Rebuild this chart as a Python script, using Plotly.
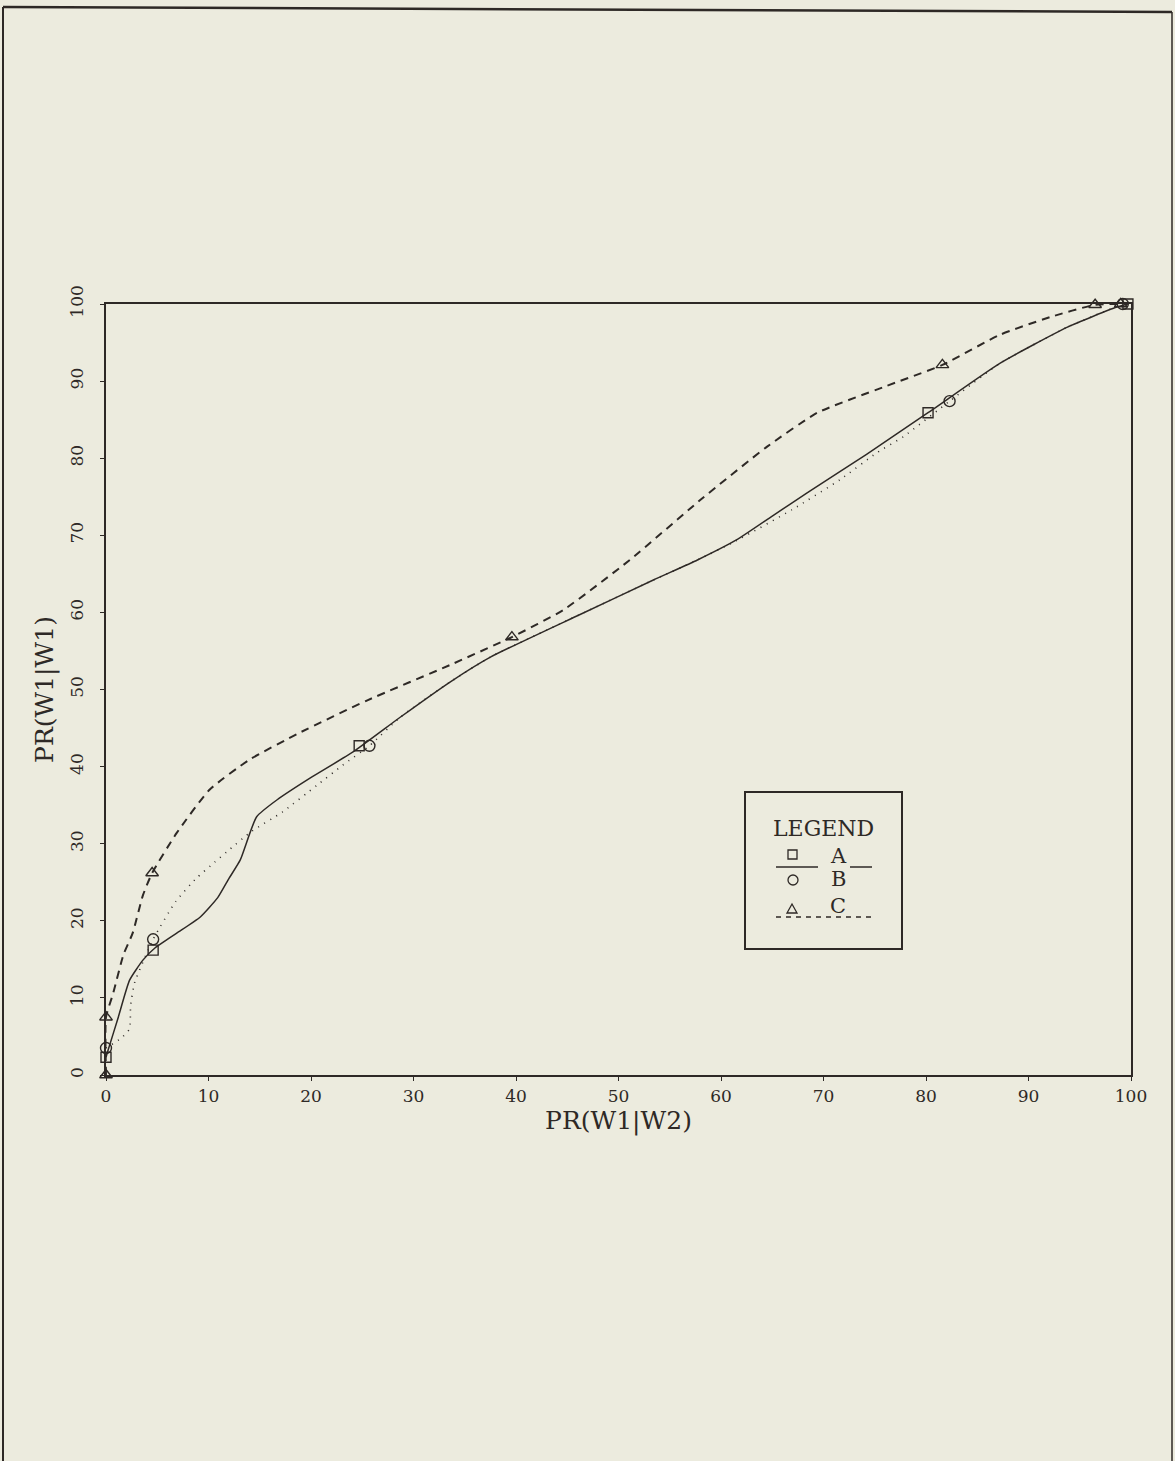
import plotly.graph_objects as go

# ---------------- data ----------------
# Series A : solid line, square markers
a_line_x = [0, 0.2, 1.2, 2.3, 3.6, 4.8, 6.9, 9.2, 10.9, 12.0, 13.1, 14.7, 16.7, 19.9, 24.1, 28.7,
            33.6, 37.5, 46.2, 53.4, 57.7, 61.5, 65.0, 68.4, 74.2, 80.2, 87.2, 93.8, 98.6, 99.7]
a_line_y = [2.3, 3.2, 7.5, 12.3, 14.9, 16.5, 18.4, 20.5, 23.0, 25.5, 27.9, 33.5, 35.7, 38.5, 41.9, 46.4,
            51.0, 54.2, 59.7, 64.2, 66.8, 69.4, 72.5, 75.5, 80.5, 85.9, 92.3, 97.0, 99.6, 100.0]
a_mark_x = [0, 4.6, 24.7, 80.2, 99.7]
a_mark_y = [2.3, 16.2, 42.7, 85.9, 100.0]

# Series B : dotted line, circle markers
b_line_x = [0, 1.5, 2.3, 2.4, 2.8, 4.6, 6.8, 8.8, 10.6, 12.1, 14.2, 17.2, 20.6, 23.1, 25.7, 28.7,
            33.6, 37.5, 46.2, 53.4, 57.7, 61.5, 66.9, 71.6, 75.2, 77.8, 82.3, 87.2, 93.8, 99.2]
b_line_y = [3.5, 4.8, 6.0, 9.0, 12.0, 17.6, 22.5, 25.5, 27.6, 29.3, 31.6, 34.1, 37.6, 40.2, 42.7, 46.4,
            51.0, 54.2, 59.7, 64.2, 66.8, 69.3, 73.3, 77.2, 80.7, 82.8, 87.4, 92.3, 97.0, 100.0]
b_mark_x = [0, 4.6, 25.7, 82.3, 99.2]
b_mark_y = [3.5, 17.6, 42.7, 87.4, 100.0]

# Series C : dashed line, triangle markers
c_line_x = [0, 0, 0.7, 1.7, 2.6, 3.6, 4.5, 6.9, 10.1, 14.0, 18.9, 25.5, 33.6, 39.6, 44.6, 51.1,
            58.0, 64.5, 69.4, 75.8, 81.6, 87.2, 92.1, 96.5, 99.0]
c_line_y = [0, 7.5, 10.6, 15.6, 18.4, 23.3, 26.2, 31.4, 37.0, 40.9, 44.4, 48.6, 53.2, 56.8, 60.3, 66.8,
            74.6, 81.5, 85.9, 89.2, 92.1, 96.0, 98.3, 99.9, 100.0]
c_mark_x = [0, 0, 4.5, 39.6, 81.6, 96.5, 99.0]
c_mark_y = [0, 7.5, 26.2, 56.8, 92.1, 99.9, 100.0]

x_ticks = [0, 10, 20, 30, 40, 50, 60, 70, 80, 90, 100]
y_ticks = [0, 10, 20, 30, 40, 50, 60, 70, 80, 90, 100]
x_title = "PR(W1|W2)"
y_title = "PR(W1|W1)"
legend_title = "LEGEND"
series_names = ["A", "B", "C"]

# ---------------- layout geometry ----------------
W, H = 1175, 1461
L, R, T, B = 106, 1131, 304, 1075
INK = "#2e2926"
BG = "#ecebde"
FONT = "DejaVu Serif"


def px(x):
    return (x - L) / (R - L)


def py(y):
    return (B - y) / (B - T)


fig = go.Figure()

line_common = dict(color=INK, shape="spline", smoothing=0.5)
fig.add_trace(go.Scatter(x=b_line_x, y=b_line_y, mode="lines", name="B",
                         line=dict(width=1.6, dash="1px,6px", **line_common), hoverinfo="skip"))
fig.add_trace(go.Scatter(x=c_line_x, y=c_line_y, mode="lines", name="C",
                         line=dict(width=2.0, dash="8px,6px", **line_common), hoverinfo="skip"))
fig.add_trace(go.Scatter(x=a_line_x, y=a_line_y, mode="lines", name="A",
                         line=dict(width=1.5, **line_common), hoverinfo="skip"))

mk = dict(color=INK, line=dict(color=INK, width=1.4))
fig.add_trace(go.Scatter(x=a_mark_x, y=a_mark_y, mode="markers", cliponaxis=False,
                         marker=dict(symbol="square-open", size=10, **mk)))
fig.add_trace(go.Scatter(x=b_mark_x, y=b_mark_y, mode="markers", cliponaxis=False,
                         marker=dict(symbol="circle-open", size=11, **mk)))
fig.add_trace(go.Scatter(x=c_mark_x, y=c_mark_y, mode="markers", cliponaxis=False,
                         marker=dict(symbol="triangle-up-open", size=11, **mk)))

shapes = []
# page frame
for (x0, y0, x1, y1, w) in [(3, 7, 1172, 12, 2.5), (3, 7, 3, 1461, 2), (1172, 12, 1172, 1461, 1.5)]:
    shapes.append(dict(type="line", xref="paper", yref="paper", x0=px(x0), y0=py(y0), x1=px(x1), y1=py(y1),
                       line=dict(color=INK, width=w)))
# legend box
shapes.append(dict(type="rect", xref="paper", yref="paper", x0=px(745), y0=py(792), x1=px(902), y1=py(949),
                   line=dict(color=INK, width=2), fillcolor=BG))
# legend sample lines
shapes.append(dict(type="line", xref="paper", yref="paper", x0=px(776), y0=py(867), x1=px(818), y1=py(867),
                   line=dict(color=INK, width=1.5)))
shapes.append(dict(type="line", xref="paper", yref="paper", x0=px(850), y0=py(867), x1=px(872), y1=py(867),
                   line=dict(color=INK, width=1.5)))
shapes.append(dict(type="line", xref="paper", yref="paper", x0=px(776), y0=py(917), x1=px(872), y1=py(917),
                   line=dict(color=INK, width=1.5, dash="5px,5px")))
# legend glyphs
shapes.append(dict(type="rect", xref="paper", yref="paper", x0=px(788), y0=py(850), x1=px(797), y1=py(859),
                   line=dict(color=INK, width=1.3)))
shapes.append(dict(type="circle", xref="paper", yref="paper", x0=px(788), y0=py(875), x1=px(798), y1=py(885),
                   line=dict(color=INK, width=1.3)))
shapes.append(dict(type="path", xref="paper", yref="paper",
                   path=f"M {px(787)} {py(913)} L {px(797)} {py(913)} L {px(792)} {py(904)} Z",
                   line=dict(color=INK, width=1.3)))

annotations = [
    dict(text=legend_title, xref="paper", yref="paper", x=px(823), y=py(828), showarrow=False,
         font=dict(family=FONT, size=22, color=INK), xanchor="center", yanchor="middle"),
]
for name, yy in zip(series_names, [856, 879, 906]):
    annotations.append(dict(text=name, xref="paper", yref="paper", x=px(838), y=py(yy), showarrow=False,
                            font=dict(family=FONT, size=21, color=INK), xanchor="center", yanchor="middle"))

axis_common = dict(range=[0, 100], showgrid=False, zeroline=False, showline=True, mirror=True,
                   linecolor=INK, linewidth=2.2, ticks="outside", tickcolor=INK, tickwidth=1.2,
                   tickfont=dict(family=FONT, size=17, color=INK))

fig.update_layout(
    width=W, height=H, autosize=False,
    margin=dict(l=L, r=W - R, t=T, b=H - B, pad=0),
    paper_bgcolor=BG, plot_bgcolor=BG,
    showlegend=False,
    xaxis=dict(tickvals=x_ticks, ticklen=4,
               title=dict(text=x_title, standoff=0, font=dict(family=FONT, size=25, color=INK)),
               **axis_common),
    yaxis=dict(tickvals=y_ticks, ticklen=4, tickangle=-90, ticklabelstandoff=10,
               title=dict(text=y_title, standoff=6, font=dict(family=FONT, size=25, color=INK)),
               **axis_common),
    shapes=shapes,
    annotations=annotations,
)

fig.write_html(
    "out.html",
    config={"displayModeBar": False},
    post_script=("document.body.style.margin='0';"
                 "document.body.style.background='" + BG + "';"
                 "document.documentElement.style.overflow='hidden';"),
)
